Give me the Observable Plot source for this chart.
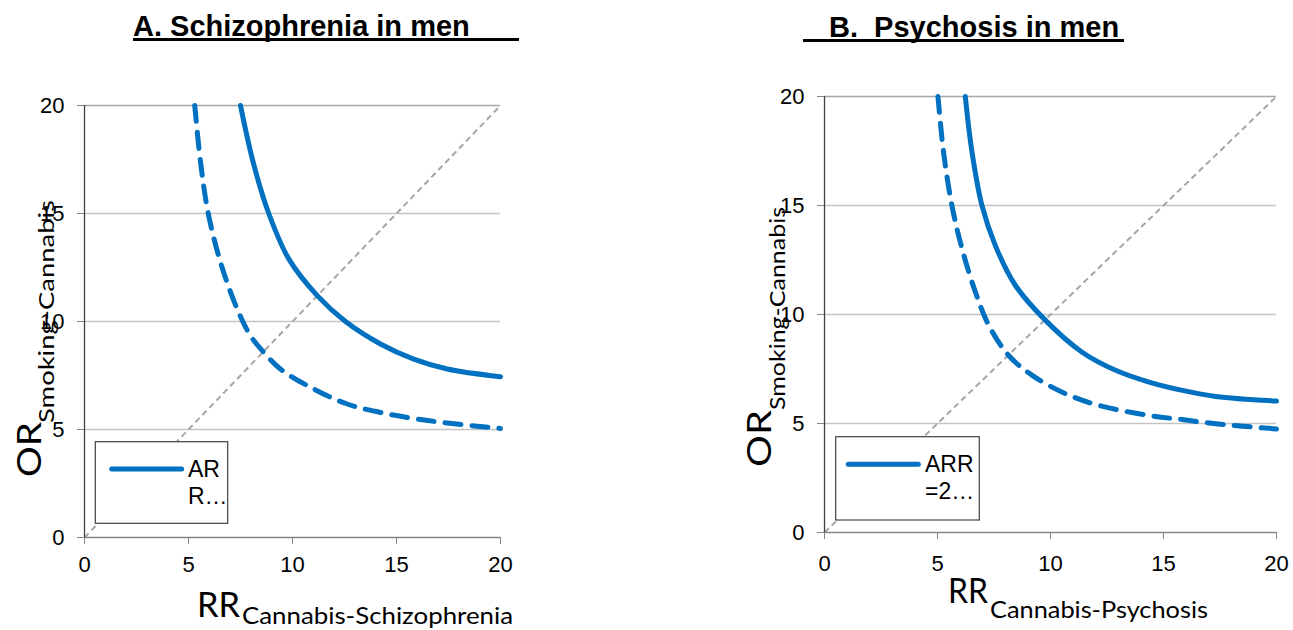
<!DOCTYPE html>
<html><head><meta charset="utf-8">
<script src="https://cdn.jsdelivr.net/npm/d3@7"></script>
<script src="https://cdn.jsdelivr.net/npm/@observablehq/plot@0.6"></script>
<style>
body{margin:0;background:#fff;}
#fig{position:relative;width:1293px;height:630px;overflow:hidden;}
#fig svg{position:absolute;top:0;overflow:visible;}
#fig g[aria-label$="tick label"], #fig g[aria-label$="tick label"] text{font-size:22px !important;font-family:'Liberation Sans',Arial,sans-serif !important;}
</style></head><body><div id="fig"></div>
<script>
// ---- data ----
const axisTicks = [0, 5, 10, 15, 20];
const gridTicks = [5, 10, 15];
const diagonalRR = [0, 20];
const diagonalOR = [0, 20];

// Panel A: schizophrenia in men
const schizSolidRR  = [7.5, 8.11, 8.86, 9.82, 11.19, 12.55, 14.23, 15.83, 17.44, 20];
const schizSolidOR  = [20, 17.37, 15.0, 12.9, 11.2, 10.0, 8.96, 8.26, 7.80, 7.44];
const schizDashRR   = [5.30, 5.58, 5.95, 6.54, 7.34, 7.98, 8.62, 9.42, 11.03, 12.63, 14.23, 15.83, 17.44, 20];
const schizDashOR   = [20, 17.37, 15.0, 12.74, 10.58, 9.34, 8.57, 7.80, 6.87, 6.18, 5.79, 5.51, 5.30, 5.05];

// Panel B: psychosis in men
const psySolidRR = [6.23, 6.53, 6.97, 7.56, 8.45, 9.78, 11.40, 12.88, 14.36, 15.83, 17.31, 20];
const psySolidOR = [20, 17.43, 14.99, 13.16, 11.33, 9.73, 8.27, 7.44, 6.90, 6.52, 6.24, 6.03];
const psyDashRR  = [5.02, 5.27, 5.64, 6.09, 6.68, 7.27, 8.15, 9.19, 10.66, 12.14, 14.36, 15.83, 17.31, 20];
const psyDashOR  = [20, 17.43, 14.99, 13.0, 11.02, 9.50, 8.12, 7.21, 6.37, 5.83, 5.37, 5.18, 4.99, 4.75];

const titleA = "A. Schizophrenia in men";
const titleB = "B.  Psychosis in men";
const xLabelA = "Cannabis-Schizophrenia";
const xLabelB = "Cannabis-Psychosis";
const yLabelSub = "Smoking-Cannabis";
const legendA = ["AR", "R…"];
const legendB = ["ARR", "=2…"];

const zip = (xs, ys) => xs.map((x, i) => ({rr: x, or: ys[i]}));
const BLUE = "#0070c0";
const SANS = "'Liberation Sans', Arial, sans-serif";
const CAL = "Lato, 'Open Sans', sans-serif";

function panel(cfg) {
  const plot = Plot.plot({
    width: cfg.width, height: 630,
    marginLeft: cfg.ml, marginRight: cfg.mr, marginTop: cfg.mt, marginBottom: cfg.mb,
    style: {fontFamily: SANS, fontSize: "22px", color: "#000", background: "transparent", overflow: "visible"},
    x: {domain: [0, 20]},
    y: {domain: [0, 20]},
    marks: [
      Plot.gridY(gridTicks, {stroke: "#c4c4c4", strokeOpacity: 1, strokeWidth: 1.3}),
      Plot.gridY([20], {stroke: "#a6a6a6", strokeOpacity: 1, strokeWidth: 1.3}),
      Plot.line(zip(diagonalRR, diagonalOR), {x: "rr", y: "or", stroke: "#a6a6a6", strokeWidth: 2, strokeDasharray: "6,4", strokeLinecap: "butt"}),
      Plot.line(zip(cfg.dashRR, cfg.dashOR), {x: "rr", y: "or", stroke: BLUE, strokeWidth: 5, curve: "catmull-rom", strokeDasharray: "16,11", strokeLinecap: "round"}),
      Plot.line(zip(cfg.solidRR, cfg.solidOR), {x: "rr", y: "or", stroke: BLUE, strokeWidth: 5, curve: "catmull-rom"}),
      Plot.ruleY([0], {stroke: "#868686", strokeWidth: 1.3}),
      Plot.ruleX([0], {stroke: "#404040", strokeWidth: 1.3}),
      Plot.axisX({ticks: axisTicks, tickSize: 7, tickPadding: cfg.xPad, fontSize: 22, stroke: "#868686", fill: "#000", label: null, tickFormat: d => String(d)}),
      Plot.axisY({ticks: axisTicks, tickSize: 7, tickPadding: 13, fontSize: 22, stroke: "#868686", fill: "#000", label: null, tickFormat: d => String(d)})
    ]
  });
  plot.style.left = cfg.left + "px";
  const svg = d3.select(plot);
  const txt = () => svg.append("text").attr("text-anchor", "start").attr("fill", "#000");

  // title with underline
  txt().attr("x", cfg.title.x).attr("y", cfg.title.y)
    .attr("font-family", SANS).attr("font-weight", "bold")
    .attr("font-size", 29).style("white-space", "pre").text(cfg.title.text);
  svg.append("rect").attr("x", cfg.title.u0).attr("y", cfg.title.y + 2)
    .attr("width", cfg.title.u1 - cfg.title.u0).attr("height", 3).attr("fill", "#000");

  // x axis title: RR with subscript
  const xt = cfg.xt;
  txt().attr("x", xt.x).attr("y", xt.y).attr("font-family", CAL)
    .attr("font-size", 35).attr("textLength", xt.len).attr("lengthAdjust", "spacingAndGlyphs").text("RR");
  txt().attr("x", xt.sx).attr("y", xt.sy).attr("font-family", CAL)
    .attr("font-size", 24).attr("textLength", xt.slen).attr("lengthAdjust", "spacingAndGlyphs").text(xt.sub);

  // y axis title: OR with subscript (rotated)
  const yt = cfg.yt;
  txt().attr("transform", `translate(${yt.x},${yt.y}) rotate(-90)`)
    .attr("font-family", CAL).attr("font-size", 33)
    .attr("textLength", yt.len).attr("lengthAdjust", "spacingAndGlyphs").text("OR");
  txt().attr("transform", `translate(${yt.sx},${yt.sy}) rotate(-90)`)
    .attr("font-family", CAL).attr("font-size", 21)
    .attr("textLength", yt.slen).attr("lengthAdjust", "spacingAndGlyphs").text(yLabelSub);

  // legend box
  const lg = cfg.legend;
  svg.append("rect").attr("x", lg.x).attr("y", lg.y).attr("width", lg.w).attr("height", lg.h)
    .attr("fill", "#fff").attr("stroke", "#404040").attr("stroke-width", 1.2);
  svg.append("line").attr("x1", lg.lx0).attr("x2", lg.lx1).attr("y1", lg.ly).attr("y2", lg.ly)
    .attr("stroke", BLUE).attr("stroke-width", 5).attr("stroke-linecap", "round");
  lg.lines.forEach((t, i) => {
    txt().attr("x", lg.tx).attr("y", lg.ty + i * 27)
      .attr("font-family", SANS).attr("font-size", 23).text(t);
  });
  document.getElementById("fig").appendChild(plot);
}

panel({
  left: 0, width: 640, ml: 84, mr: 140, mt: 105, mb: 93, xPad: 12,
  solidRR: schizSolidRR, solidOR: schizSolidOR, dashRR: schizDashRR, dashOR: schizDashOR,
  title: {text: titleA, x: 133, y: 36, u0: 133, u1: 519},
  xt: {x: 197, y: 617, len: 43, sx: 242, sy: 624, slen: 271, sub: xLabelA},
  yt: {x: 41, y: 477, len: 55, sx: 54, sy: 423, slen: 223},
  legend: {x: 95.3, y: 441.7, w: 132.4, h: 81.6, lx0: 111.7, lx1: 181.7, ly: 469, tx: 188, ty: 477, lines: legendA}
});

panel({
  left: 640, width: 653, ml: 184, mr: 17, mt: 96, mb: 98, xPad: 16,
  solidRR: psySolidRR, solidOR: psySolidOR, dashRR: psyDashRR, dashOR: psyDashOR,
  title: {text: titleB, x: 189, y: 37, u0: 163, u1: 484},
  xt: {x: 308, y: 603, len: 40, sx: 350, sy: 618, slen: 218, sub: xLabelB},
  yt: {x: 131, y: 467, len: 57, sx: 145, sy: 410, slen: 203},
  legend: {x: 195.7, y: 436.7, w: 143.6, h: 83.3, lx0: 208.3, lx1: 278.3, ly: 464.3, tx: 285, ty: 472.3, lines: legendB}
});
</script></body></html>
